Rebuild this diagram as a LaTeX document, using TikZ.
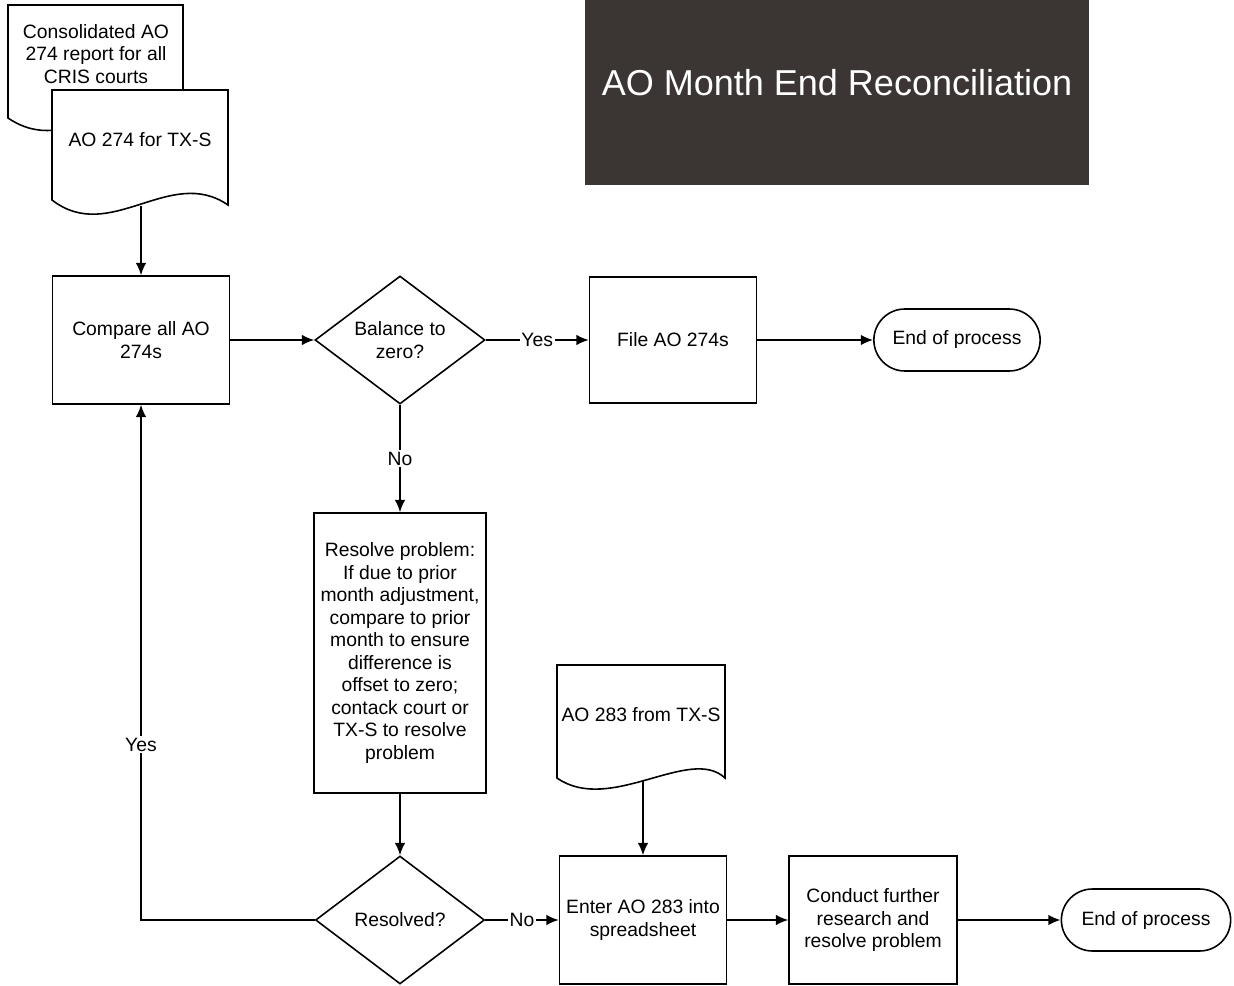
\documentclass[tikz,border=0pt]{standalone}
\usepackage{fontspec}
\setmainfont{Liberation Sans}
\usetikzlibrary{arrows.meta,shapes.geometric,shapes.misc}
\definecolor{titlegray}{HTML}{3B3634}

\begin{document}
\begin{tikzpicture}[x=0.02cm,y=-0.02cm,font=\fontsize{11}{12.8}\selectfont]

\tikzset{process/.style = {shape=rectangle,draw,line width=0.9pt,align=center,minimum width=3.36cm,minimum height=2.56cm}}
\tikzset{decision/.style = {shape=diamond,draw,line width=0.9pt,align=center,inner sep=0pt,minimum width=3.4cm,minimum height=2.5cm}}
\tikzset{terminal/.style = {shape=rounded rectangle,draw,line width=0.9pt,minimum width=3.56cm,minimum height=1.24cm}}
\tikzset{document/.style = {draw,fill=white,line width=0.9pt}}
\tikzset{arc/.style = {->,>={Latex[length=7pt,width=6pt]},line width=0.9pt}}
\tikzset{answer/.style = {fill=white,inner sep=1pt}}

\useasboundingbox (0,0) rectangle (1234,986);

% title
\fill[titlegray] (585,0) rectangle (1089,185);
\node[text=white,font=\fontsize{20.5}{24}\selectfont] (title) at (837,83) {AO Month End Reconciliation};

% documents
\draw[document] (8,5) -- (183,5) -- (183,113) .. controls (120,80) and (70,160) .. (8,118) -- cycle;
\node[align=center] (cons) at (96,54) {Consolidated AO\\274 report for all\\CRIS courts};
\draw[document] (52,90) -- (228,90) -- (228,205) .. controls (170,165) and (110,245) .. (52,200) -- cycle;
\node (tx274) at (140,140) {AO 274 for TX-S};
\draw[document] (557,665) -- (725,665) -- (725,778) .. controls (690,745) and (610,815) .. (557,778) -- cycle;
\node (tx283) at (641,715) {AO 283 from TX-S};
\coordinate (tx274b) at (141,206);
\coordinate (tx283b) at (643,781);

% vertices
\node[process,minimum width=3.54cm] (cmp) at (141,340) {Compare all AO\\274s};
\node[decision] (bal) at (400,340) {Balance to\\zero?};
\node[process,minimum width=3.34cm,minimum height=2.52cm] (file) at (673,340) {File AO 274s};
\node[terminal] (end1) at (957,340) {End of process};
\node[process,minimum width=3.44cm,minimum height=5.6cm] (rsv) at (400,653)
  {Resolve problem:\\If due to prior\\month adjustment,\\compare to prior\\month to ensure\\difference is\\offset to zero;\\contack court or\\TX-S to resolve\\problem};
\node[decision,minimum width=3.38cm,minimum height=2.56cm] (rsd) at (400,920) {Resolved?};
\node[process,minimum width=3.34cm] (enter) at (643,920) {Enter AO 283 into\\spreadsheet};
\node[process] (cond) at (873,920) {Conduct further\\research and\\resolve problem};
\node[terminal,minimum width=3.62cm] (end2) at (1146,920) {End of process};

% arcs
\draw[arc] (tx274b) to (cmp);
\draw[arc] (cmp) to (bal);
\draw[arc] (bal) to node[answer] {Yes} (file);
\draw[arc] (file) to (end1);
\draw[arc] (bal) to node[answer] {No} (rsv);
\draw[arc] (rsv) to (rsd);
\draw[arc] (rsd) to node[answer] {No} (enter);
\draw[arc] (tx283b) to (enter);
\draw[arc] (enter) to (cond);
\draw[arc] (cond) to (end2);

% loop back
\draw[arc] (rsd.west) -| node[answer,pos=0.67] {Yes} (cmp.south);

\end{tikzpicture}
\end{document}
